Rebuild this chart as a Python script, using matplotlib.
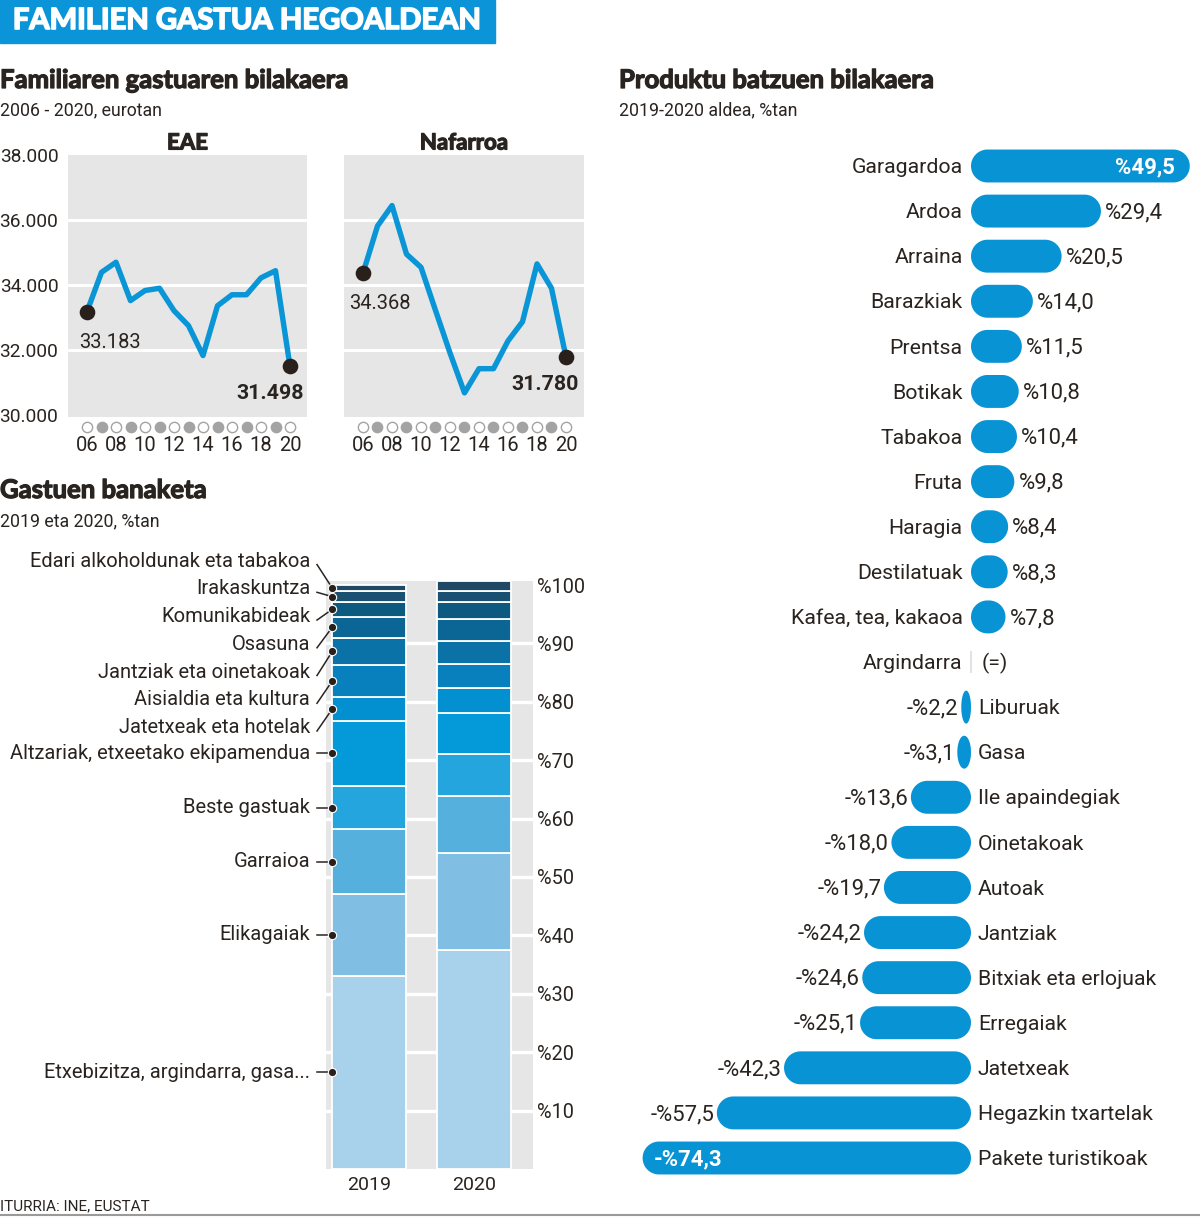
import numpy as np
import matplotlib
matplotlib.use('Agg')
import matplotlib.pyplot as plt
import matplotlib.patheffects as pe
from matplotlib.patches import Rectangle, Polygon

BODY = 'Roboto'
HEAVY = 'Lato'
INK = '#2a2420'
BLUE = '#0995d6'
GRAY_BG = '#e6e6e6'

plt.rcParams['font.family'] = [BODY, 'DejaVu Sans']
plt.rcParams['text.color'] = INK

# --- datuak ---
years = list(range(2006, 2021))
eae = [33183, 34390, 34700, 33520, 33830, 33900, 33210, 32750, 31830,
       33360, 33700, 33700, 34220, 34440, 31498]
nafarroa = [34368, 35815, 36445, 34950, 34545, 33220, 31910, 30680, 31425,
            31425, 32280, 32870, 34650, 33900, 31780]
line_yticks = [30000, 32000, 34000, 36000, 38000]

# banaketa, behetik gora
seg_names = ['Etxebizitza, argindarra, gasa...', 'Elikagaiak', 'Garraioa',
             'Beste gastuak', 'Altzariak, etxeetako ekipamendua',
             'Jatetxeak eta hotelak', 'Aisialdia eta kultura',
             'Jantziak eta oinetakoak', 'Osasuna', 'Komunikabideak',
             'Irakaskuntza', 'Edari alkoholdunak eta tabakoa']
seg_2019 = [33.1, 14.0, 11.1, 7.4, 11.1, 4.2, 5.4, 4.7, 3.6, 2.5, 1.8, 1.1]
seg_2020 = [37.5, 16.6, 9.7, 7.2, 7.0, 4.3, 4.1, 4.0, 3.7, 3.0, 1.9, 1.6]
seg_colors = ['#a8d2eb', '#80bee4', '#56b0de', '#25a5dd', '#0499d8', '#0290d0',
              '#0780bd', '#0a72a6', '#0b6595', '#0d5a80', '#1a5071', '#1e4864']
bar_years = ['2019', '2020']

products = ['Garagardoa', 'Ardoa', 'Arraina', 'Barazkiak', 'Prentsa', 'Botikak',
            'Tabakoa', 'Fruta', 'Haragia', 'Destilatuak', 'Kafea, tea, kakaoa',
            'Argindarra', 'Liburuak', 'Gasa', 'Ile apaindegiak', 'Oinetakoak',
            'Autoak', 'Jantziak', 'Bitxiak eta erlojuak', 'Erregaiak',
            'Jatetxeak', 'Hegazkin txartelak', 'Pakete turistikoak']
changes = [49.5, 29.4, 20.5, 14.0, 11.5, 10.8, 10.4, 9.8, 8.4, 8.3, 7.8,
           0.0, -2.2, -3.1, -13.6, -18.0, -19.7, -24.2, -24.6, -25.1,
           -42.3, -57.5, -74.3]

W, H = 1200, 1217
fig = plt.figure(figsize=(W / 100, H / 100), dpi=100)
HEAVY_FX = [pe.withStroke(linewidth=0.9, foreground=INK)]


def px_axes(x0, y0, x1, y1):
    return fig.add_axes([x0 / W, 1 - y1 / H, (x1 - x0) / W, (y1 - y0) / H])


def ftext(x, y, s, **kw):
    kw.setdefault('va', 'center')
    fig.text(x / W, 1 - y / H, s, **kw)


def heading(x, y, s, size=18.5):
    ftext(x, y, s, family=HEAVY, weight='bold', fontsize=size, path_effects=HEAVY_FX)


def fmt_thousands(v):
    return f'{v:,}'.replace(',', '.')


# --- goiburua ---
fig.patches.append(Rectangle((0, 1 - 43 / H), 495 / W, 43 / H,
                             transform=fig.transFigure, color='#0b95d8'))
ftext(247, 21, 'FAMILIEN GASTUA HEGOALDEAN', ha='center', color='white',
      family=HEAVY, weight='bold', fontsize=21,
      path_effects=[pe.withStroke(linewidth=1.2, foreground='white')])

heading(0, 80, 'Familiaren gastuaren bilakaera')
ftext(0, 110, '2006 - 2020, eurotan', fontsize=12.8)
heading(619, 80, 'Produktu batzuen bilakaera')
ftext(619, 110, '2019-2020 aldea, %tan', fontsize=12.8)
heading(0, 490, 'Gastuen banaketa')
ftext(0, 521, '2019 eta 2020, %tan', fontsize=12.8)
ftext(0, 1206, 'ITURRIA: INE, EUSTAT', fontsize=11)
fig.add_artist(plt.Line2D([0, 1], [1 - 1215 / H] * 2, transform=fig.transFigure,
                          color='#9a9a9a', lw=1.5))

# --- lerro grafikoak ---
panels = [('EAE', eae, 68, 307, 87, 290), ('Nafarroa', nafarroa, 344, 584, 363, 566)]
for k, (title, vals, ax0, ax1, p0, p1) in enumerate(panels):
    ax = px_axes(ax0, 155, ax1, 417)
    ax.set_facecolor(GRAY_BG)
    step = (p1 - p0) / (years[-1] - years[0])
    ax.set_xlim(years[0] - (p0 - ax0) / step, years[-1] + (ax1 - p1) / step)
    ax.set_ylim(38000 - 262 / 260 * 8000, 38000)
    for s in ax.spines.values():
        s.set_visible(False)
    for g in line_yticks[1:-1]:
        ax.axhline(g, color='white', lw=2.2, zorder=1)
    ax.plot(years, vals, color=BLUE, lw=3.9, zorder=3, solid_joinstyle='round')
    ax.scatter([years[0], years[-1]], [vals[0], vals[-1]], s=105, color='#2a201b', zorder=5)
    ax.set_xticks([])
    if k == 0:
        ax.set_yticks(line_yticks, [fmt_thousands(v) for v in line_yticks])
        ax.tick_params(axis='y', length=0, pad=7, labelsize=13.8, labelcolor=INK)
    else:
        ax.set_yticks([])
    xt = ax.get_xaxis_transform()
    for yr in years:
        odd = yr % 2 == 1
        ax.scatter(yr, -0.038, s=55, transform=xt, clip_on=False,
                   facecolor='#a3a3a3' if odd else 'white',
                   edgecolor='#a3a3a3', lw=1.0)
        if not odd:
            ax.text(yr, -0.107, f'{yr % 100:02d}', transform=xt, ha='center',
                    va='center', fontsize=14.5)
    ax.set_title(title, family=HEAVY, weight='bold', fontsize=16, pad=4,
                 path_effects=HEAVY_FX)
    if k == 0:
        ax.annotate(fmt_thousands(vals[0]), (years[0], vals[0]), xytext=(-6, -22),
                    textcoords='offset points', ha='left', va='center', fontsize=14.5)
        ax.annotate(fmt_thousands(vals[-1]), (years[-1], vals[-1]), xytext=(10, -19.5),
                    textcoords='offset points', ha='right', va='center',
                    fontsize=15.4, weight='bold')
    else:
        ax.annotate(fmt_thousands(vals[0]), (years[0], vals[0]), xytext=(-10, -22),
                    textcoords='offset points', ha='left', va='center', fontsize=14.5)
        ax.annotate(fmt_thousands(vals[-1]), (years[-1], vals[-1]), xytext=(9, -19.5),
                    textcoords='offset points', ha='right', va='center',
                    fontsize=15.4, weight='bold')

# --- banaketa (barra metatuak) ---
top = max(sum(seg_2019), sum(seg_2020))
ax = px_axes(326, 1169 - top * 5.84, 533, 1169)
ax.set_facecolor(GRAY_BG)
bw = 0.71
ax.set_xlim(-(369.4 - 326) / 104.3, 1 + (533 - 473.7) / 104.3)
ax.set_ylim(0, top)
for s in ax.spines.values():
    s.set_visible(False)
for g in range(10, 100, 10):
    ax.axhline(g, color='white', lw=2.4, zorder=0.5)
xs = [0, 1]
bottoms = np.zeros(2)
for name, a, b, c in zip(seg_names, seg_2019, seg_2020, seg_colors):
    ax.bar(xs, [a, b], bottom=bottoms, width=bw, color=c, edgecolor='white',
           linewidth=1.3, zorder=2)
    bottoms += [a, b]
ax.yaxis.tick_right()
ax.set_yticks(range(10, 101, 10), [f'%{v}' for v in range(10, 101, 10)])
ax.tick_params(axis='y', length=0, pad=3, labelsize=14.3, labelcolor=INK)
ax.set_xticks(xs, bar_years)
ax.tick_params(axis='x', length=0, pad=5, labelsize=14, labelcolor=INK)

# etiketak eta lotura lerroak
mids = np.cumsum(seg_2019) - np.array(seg_2019) / 2
n_low = 5
x_dot = -bw / 2
x_line = -0.416 + (317 - 326) / 104.3
x_lab = -0.416 + (310 - 326) / 104.3
for i, (name, m) in enumerate(zip(seg_names, mids)):
    if i < n_low:
        ly = m
    else:
        ly = 104.1 - (len(seg_names) - 1 - i) * 4.75
    ax.plot([x_line, x_dot], [ly - (0 if i < n_low else 0.6), m], color=INK,
            lw=1.1, clip_on=False, zorder=4)
    ax.scatter(x_dot, m, s=36, color='#2a201b', edgecolors='white', linewidths=0.8,
               clip_on=False, zorder=5)
    ax.text(x_lab, ly, name, ha='right', va='center', fontsize=14.5, clip_on=False)

# --- produktuak (barra biribilduak) ---
ax = px_axes(600, 130, 1200, 1190)
ppx = 4.42
ax.set_xlim(-(971 - 600) / ppx, (1200 - 971) / ppx)
n = len(products)
ax.set_ylim(n - 1 + 32 / 45.1, -36 / 45.1)
ax.axis('off')
bh = 0.73
rpx = bh * 45.1 / 2
t = np.linspace(-np.pi / 2, np.pi / 2, 40)
vmax, vmin = max(changes), min(changes)
LS, VS = 15.3, 15.9
dy = -1.2  # testua apur bat beherago
for i, (name, v) in enumerate(zip(products, changes)):
    lab = ('-' if v < 0 else '') + f'%{abs(v):.1f}'.replace('.', ',')
    if v == 0:
        ax.vlines(0, i - 0.25, i + 0.25, color='#dddddd', lw=1.2)
        ax.annotate(name, (0, i), xytext=(-6, dy), textcoords='offset points',
                    ha='right', va='center', fontsize=LS)
        ax.annotate('(=)', (0, i), xytext=(8, dy), textcoords='offset points',
                    ha='left', va='center', fontsize=LS)
        continue
    x0, x1 = min(0, v), max(0, v)
    rx = min(rpx / ppx, abs(v) / 2)
    ry = bh / 2
    right = np.c_[x1 - rx + rx * np.cos(t), i + ry * np.sin(t)]
    left = np.c_[x0 + rx - rx * np.cos(t), i - ry * np.sin(t)]
    ax.add_patch(Polygon(np.vstack([right, left]), closed=True, color='#0893d4', lw=0))
    inside = v in (vmax, vmin)
    if v > 0:
        ax.annotate(name, (0, i), xytext=(-6, dy), textcoords='offset points',
                    ha='right', va='center', fontsize=LS)
        if inside:
            ax.annotate(lab, (v, i), xytext=(-11, dy), textcoords='offset points',
                        ha='right', va='center', fontsize=VS, color='white',
                        weight='bold')
        else:
            ax.annotate(lab, (v, i), xytext=(3, dy), textcoords='offset points',
                        ha='left', va='center', fontsize=VS)
    else:
        ax.annotate(name, (0, i), xytext=(5, dy), textcoords='offset points',
                    ha='left', va='center', fontsize=LS)
        if inside:
            ax.annotate(lab, (v, i), xytext=(8, dy), textcoords='offset points',
                        ha='left', va='center', fontsize=VS, color='white',
                        weight='bold')
        else:
            ax.annotate(lab, (v, i), xytext=(-2, dy), textcoords='offset points',
                        ha='right', va='center', fontsize=VS)

fig.savefig('out.png', dpi=100)
